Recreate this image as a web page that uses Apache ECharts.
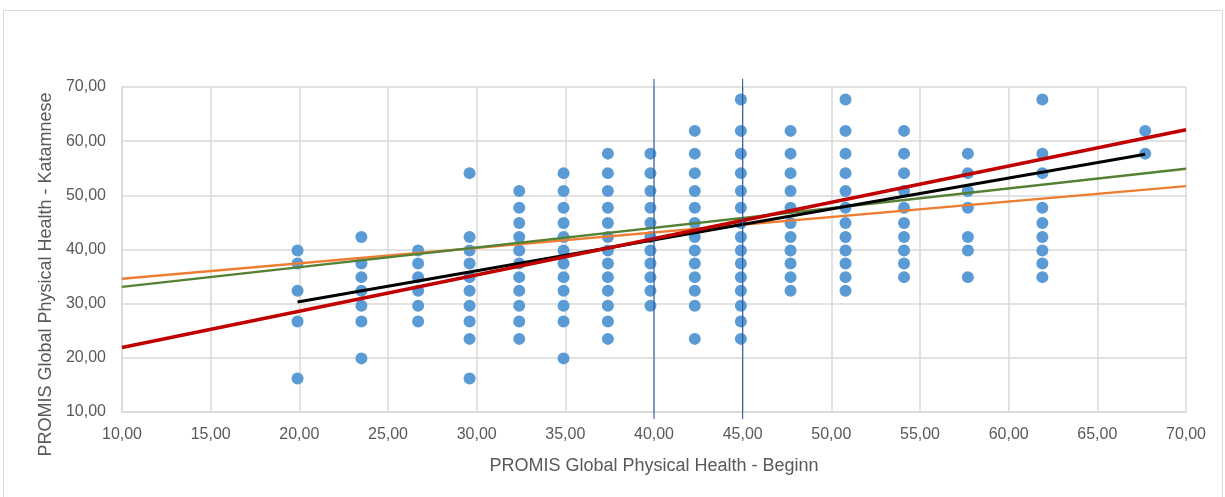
<!DOCTYPE html>
<html>
<head>
<meta charset="utf-8">
<script src="https://cdn.jsdelivr.net/npm/echarts@6/dist/echarts.min.js"></script>
<style>
html, body { margin: 0; padding: 0; background: #fff; }
#container { width: 1225px; height: 497px; }
</style>
</head>
<body>
<div id="container"></div>
<script>
// x position of each column of points (Beginn score)
var xLevels = [19.9, 23.5, 26.7, 29.6, 32.4, 34.9, 37.4, 39.8, 42.3, 44.9, 47.7, 50.8, 54.1, 57.7, 61.9, 67.7];
// Katamnese values found in each column
var yByColumn = [
    [39.8, 37.4, 32.4, 26.7, 16.2],
    [42.3, 37.4, 34.9, 32.4, 29.6, 26.7, 19.9],
    [39.8, 37.4, 34.9, 32.4, 29.6, 26.7],
    [54.1, 42.3, 39.8, 37.4, 34.9, 32.4, 29.6, 26.7, 23.5, 16.2],
    [50.8, 47.7, 44.9, 42.3, 39.8, 37.4, 34.9, 32.4, 29.6, 26.7, 23.5],
    [54.1, 50.8, 47.7, 44.9, 42.3, 39.8, 37.4, 34.9, 32.4, 29.6, 26.7, 19.9],
    [57.7, 54.1, 50.8, 47.7, 44.9, 42.3, 39.8, 37.4, 34.9, 32.4, 29.6, 26.7, 23.5],
    [57.7, 54.1, 50.8, 47.7, 44.9, 42.3, 39.8, 37.4, 34.9, 32.4, 29.6],
    [61.9, 57.7, 54.1, 50.8, 47.7, 44.9, 42.3, 39.8, 37.4, 34.9, 32.4, 29.6, 23.5],
    [67.7, 61.9, 57.7, 54.1, 50.8, 47.7, 44.9, 42.3, 39.8, 37.4, 34.9, 32.4, 29.6, 26.7, 23.5],
    [61.9, 57.7, 54.1, 50.8, 47.7, 44.9, 42.3, 39.8, 37.4, 34.9, 32.4],
    [67.7, 61.9, 57.7, 54.1, 50.8, 47.7, 44.9, 42.3, 39.8, 37.4, 34.9, 32.4],
    [61.9, 57.7, 54.1, 50.8, 47.7, 44.9, 42.3, 39.8, 37.4, 34.9],
    [57.7, 54.1, 50.8, 47.7, 42.3, 39.8, 34.9],
    [67.7, 57.7, 54.1, 47.7, 44.9, 42.3, 39.8, 37.4, 34.9],
    [61.9, 57.7]
];
// trend lines (start / end points)
var orangeLine = [[10, 34.6], [70, 51.7]];
var greenLine = [[10, 33.1], [70, 54.9]];
var blackLine = [[19.9, 30.3], [67.7, 57.6]];
var redLine = [[10, 21.9], [70, 62.1]];
// vertical marker lines
var marker40 = [[40, 71.5], [40, 8.7]];
var marker45 = [[45, 71.5], [45, 8.7]];

var xName = 'PROMIS Global Physical Health - Beginn';
var yName = 'PROMIS Global Physical Health - Katamnese';

var points = [];
for (var i = 0; i < xLevels.length; i++) {
    for (var j = 0; j < yByColumn[i].length; j++) {
        points.push([xLevels[i], yByColumn[i][j]]);
    }
}

function fmt(v) {
    return v.toFixed(2).replace('.', ',');
}

var font = 'Liberation Sans, Arial, sans-serif';
var grey = '#d9d9d9';

var dom = document.getElementById('container');
var myChart = echarts.init(dom);
var option = {
    animation: false,
    backgroundColor: '#fff',
    graphic: [{
        type: 'rect',
        shape: {x: 3.5, y: 10.5, width: 1219, height: 495},
        style: {fill: 'none', stroke: grey, lineWidth: 1}
    }],
    grid: {left: 122, right: 39, top: 87, bottom: 85},
    xAxis: {
        type: 'value', min: 10, max: 70, interval: 5,
        name: xName, nameLocation: 'middle', nameGap: 45,
        nameTextStyle: {color: '#595959', fontSize: 18, fontFamily: font},
        axisLine: {show: true, lineStyle: {color: grey, width: 1.5}},
        axisTick: {show: false},
        axisLabel: {color: '#595959', fontSize: 16, fontFamily: font, margin: 15, formatter: fmt},
        splitLine: {show: true, lineStyle: {color: grey, width: 1.5}}
    },
    yAxis: {
        type: 'value', min: 10, max: 70, interval: 10,
        name: yName, nameLocation: 'middle', nameGap: 67,
        nameTextStyle: {color: '#595959', fontSize: 18, fontFamily: font, padding: [0, 50, 0, 0]},
        axisLine: {show: true, lineStyle: {color: grey, width: 1.5}},
        axisTick: {show: false},
        axisLabel: {color: '#595959', fontSize: 16, fontFamily: font, margin: 16, formatter: fmt},
        splitLine: {show: true, lineStyle: {color: grey, width: 1.5}}
    },
    series: [
        {
            type: 'scatter', data: points, symbolSize: 12,
            itemStyle: {color: '#5b9bd5', opacity: 1}
        },
        {
            type: 'line', data: orangeLine, symbol: 'none',
            lineStyle: {color: '#ed7d31', width: 2.5}
        },
        {
            type: 'line', data: greenLine, symbol: 'none',
            lineStyle: {color: '#548235', width: 2.5}
        },
        {
            type: 'line', data: blackLine, symbol: 'none',
            lineStyle: {color: '#000000', width: 3}
        },
        {
            type: 'line', data: redLine, symbol: 'none',
            lineStyle: {color: '#c00000', width: 3.5}
        },
        {
            type: 'line', data: marker40, symbol: 'none', clip: false,
            lineStyle: {color: '#1f4e99', width: 1}
        },
        {
            type: 'line', data: marker45, symbol: 'none', clip: false,
            lineStyle: {color: '#1f4e99', width: 1}
        }
    ]
};
myChart.setOption(option);
</script>
</body>
</html>
